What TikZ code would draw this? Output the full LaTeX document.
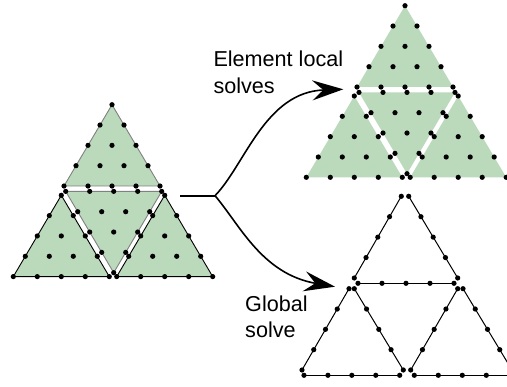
\documentclass[tikz,border=0pt]{standalone}
\usepackage{fontspec}
\setmainfont{Liberation Sans}
\usetikzlibrary{arrows.meta}
\definecolor{elgreen}{HTML}{BBD9BB}
\definecolor{elgray}{HTML}{808080}
\tikzset{
  elfill/.style={fill=elgreen,draw=none},
  dotmark/.style={fill=black,draw=none},
  label/.style={anchor=base west,inner sep=0pt,align=left,font=\fontsize{21.6}{27}\selectfont},
  flow/.style={draw=black,line width=1.9pt},
  flowhead/.style={draw=black,line width=1.6pt,-{Stealth[length=31pt,width=20pt,inset=11pt]}},
  skel/.style={draw=black,line width=1pt}
}
\newcommand{\elemdots}[3]{%
  \foreach \r in {0,...,4}{\foreach \i in {0,...,\r}{%
    \fill[dotmark] ({#1+(\i-\r/2)*24},{#2+#3*\r*20.33}) circle (2.6);}}}
\newcommand{\elemtri}[3]{%
  \fill[elfill] (#1,#2) -- ({#1-48},{#2+#3*81.3}) -- ({#1+48},{#2+#3*81.3}) -- cycle;}
\newcommand{\elemline}[4]{%
  \draw[#4,line width=0.9pt,line join=round] (#1,#2) -- ({#1-48},{#2+#3*81.3}) -- ({#1+48},{#2+#3*81.3}) -- cycle;}
\newcommand{\skeledge}[4]{%
  \draw[skel] (#1,#2) -- (#3,#4);
  \foreach \t in {0,0.25,0.5,0.75,1}{%
    \fill[dotmark] ({#1+\t*(#3-#1)},{#2+\t*(#4-#2)}) circle (2.6);}}
\begin{document}
\begin{tikzpicture}[x=1pt,y=-1pt]
\useasboundingbox (0,0) rectangle (507,387);
\clip (0,0) rectangle (507,387);
% left mesh
\elemtri{112}{104.7}{1}\elemline{112}{104.7}{1}{elgray}
\elemtri{113.7}{272.7}{-1}\elemline{113.7}{272.7}{-1}{elgray}
\elemtri{61.3}{195.3}{1}\elemline{61.3}{195.3}{1}{black}
\elemtri{164.7}{195.3}{1}\elemline{164.7}{195.3}{1}{black}
\elemdots{112}{104.7}{1}
\elemdots{113.7}{272.7}{-1}
\elemdots{61.3}{195.3}{1}
\elemdots{164.7}{195.3}{1}
% upper right mesh
\elemtri{405}{5.7}{1}
\elemtri{407}{173.7}{-1}
\elemtri{354.3}{96}{1}
\elemtri{458.2}{96}{1}
\elemdots{405}{5.7}{1}
\elemdots{407}{173.7}{-1}
\elemdots{354.3}{96}{1}
\elemdots{458.2}{96}{1}
% lower right skeleton
\skeledge{401.3}{196.3}{354.3}{278}
\skeledge{408.7}{196.3}{457.7}{278}
\skeledge{358}{283.3}{454}{283.3}
\skeledge{349}{288.7}{302}{370}
\skeledge{354.3}{288.7}{403.3}{370}
\skeledge{304}{375.3}{399.7}{375.3}
\skeledge{457.7}{288.7}{410.7}{370}
\skeledge{463}{288.7}{512}{370}
\skeledge{414.3}{375.3}{510.3}{375.3}
% labels
\node[label] (local) at (213.3,66.7) {Element local};
\node[label] (localb) at (213.3,93.3) {solves};
\node[label] (global) at (245,311.7) {Global};
\node[label] (globalb) at (245,338) {solve};
% connectors
\coordinate (start) at (180,195.7);
\coordinate (fork) at (215,195.7);
\coordinate (tipa) at (343.3,89.3);
\coordinate (tipb) at (335,286.7);
\draw[flow] (start) -- (fork);
\draw[flowhead] (fork) .. controls (245,165) and (265,92) .. (tipa);
\draw[flowhead] (fork) .. controls (240,225) and (262,274) .. (tipb);
\end{tikzpicture}
\end{document}
